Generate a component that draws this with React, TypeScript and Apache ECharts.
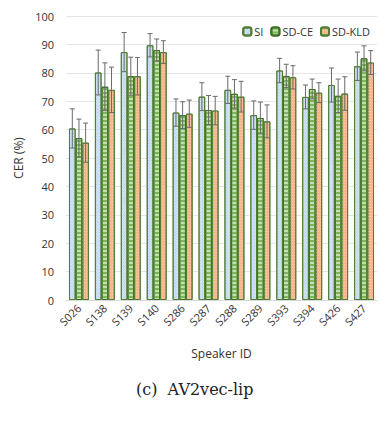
import React, { useEffect, useRef } from "react";
import * as echarts from "echarts";

const categories = ["S026", "S138", "S139", "S140", "S286", "S287", "S288", "S289", "S393", "S394", "S426", "S427"];
const seriesNames = ["SI", "SD-CE", "SD-KLD"];
const siValues = [60.4, 80.1, 87.3, 89.7, 66.0, 71.6, 74.0, 65.1, 80.8, 71.5, 75.7, 82.3];
const siErrors = [6.9, 7.9, 6.9, 4.1, 4.8, 4.9, 4.8, 5.0, 4.3, 4.2, 6.0, 5.0];
const ceValues = [57.0, 75.1, 78.8, 88.0, 65.1, 66.9, 72.6, 64.1, 78.9, 74.3, 71.9, 85.1];
const ceErrors = [6.7, 8.4, 6.7, 3.9, 4.7, 5.1, 5.0, 5.6, 4.1, 3.5, 5.9, 4.4];
const kldValues = [55.4, 74.0, 78.8, 87.3, 65.6, 66.7, 71.6, 62.9, 78.4, 73.0, 72.7, 83.6];
const kldErrors = [6.9, 8.0, 6.6, 4.0, 4.8, 5.0, 5.4, 5.8, 4.1, 3.5, 5.9, 4.2];
const yTicks = [0, 10, 20, 30, 40, 50, 60, 70, 80, 90, 100];

const CAT_GAP = 0.23;

export default function App() {
  const ref = useRef<HTMLDivElement>(null);
  useEffect(() => {
    if (!ref.current) return;
    const chart = echarts.init(ref.current, undefined, { renderer: "svg" });
    const allValues = [siValues, ceValues, kldValues];
    const allErrors = [siErrors, ceErrors, kldErrors];
    const errData: number[][] = [];
    allValues.forEach((vals, k) => {
      vals.forEach((v, i) => errData.push([i, v, allErrors[k][i], k]));
    });
    const font = "'Open Sans', 'Noto Sans', sans-serif";
    const border = "#4f7f33";
    chart.setOption({
      animation: false,
      grid: { left: 66, top: 16, width: 311, height: 284 },
      legend: {
        data: seriesNames,
        top: 21,
        right: 12,
        itemWidth: 8,
        itemHeight: 8,
        itemGap: 7,
        textStyle: { fontFamily: font, fontSize: 11, color: "#333", padding: [0, 0, 0, -2] },
      },
      graphic: [
        {
          type: "text",
          left: 136,
          top: 381,
          style: { text: "(c)  AV2vec-lip", fontFamily: "'DejaVu Serif', serif", fontSize: 16, fill: "#222" },
        },
      ],
      xAxis: {
        type: "category",
        data: categories,
        name: "Speaker ID",
        nameLocation: "middle",
        nameGap: 47,
        nameTextStyle: { fontFamily: font, fontSize: 12, color: "#333" },
        axisLine: { lineStyle: { color: "#d9d9d9" } },
        axisTick: { show: false },
        axisLabel: { rotate: 45, interval: 0, fontFamily: font, fontSize: 11, color: "#333", margin: 6 },
      },
      yAxis: {
        type: "value",
        min: 0,
        max: 100,
        interval: 10,
        name: "CER (%)",
        nameLocation: "middle",
        nameGap: 36,
        nameTextStyle: { fontFamily: font, fontSize: 12, color: "#333" },
        axisLabel: {
          fontFamily: font,
          fontSize: 11,
          color: "#333",
          margin: 12,
          formatter: (v: number) => (yTicks.includes(v) ? String(v) : ""),
        },
        splitLine: { lineStyle: { color: "#e6e6e6" } },
        axisLine: { show: false },
      },
      series: [
        {
          name: "SI",
          type: "bar",
          data: siValues,
          barGap: "0%",
          barCategoryGap: CAT_GAP * 100 + "%",
          itemStyle: {
            color: "#d6e5f4",
            borderColor: border,
            borderWidth: 1,
            decal: { symbol: "rect", symbolSize: 1, dashArrayX: [1, 1], dashArrayY: [1, 1], rotation: 0.785, color: "#a9c6e6" },
          },
        },
        {
          name: "SD-CE",
          type: "bar",
          data: ceValues,
          itemStyle: {
            color: "#c2e0ad",
            borderColor: "#3f6f25",
            borderWidth: 1,
            decal: { symbol: "rect", symbolSize: 1, dashArrayX: [1, 0], dashArrayY: [2, 2], rotation: 0, color: "#7fb55a" },
          },
        },
        {
          name: "SD-KLD",
          type: "bar",
          data: kldValues,
          itemStyle: {
            color: "#f6b58c",
            borderColor: border,
            borderWidth: 1,
            decal: { symbol: "rect", symbolSize: 1, dashArrayX: [1, 1], dashArrayY: [1, 2], rotation: 0, color: "#f9cbac" },
          },
        },
        {
          type: "custom",
          data: errData,
          encode: { x: 0, y: 1 },
          z: 10,
          silent: true,
          renderItem: (params: any, api: any) => {
            const cat = api.value(0);
            const v = api.value(1);
            const e = api.value(2);
            const k = api.value(3);
            const c = api.coord([cat, v]);
            const catW = api.size([1, 0])[0];
            const bw = (catW * (1 - CAT_GAP)) / 3;
            const x = c[0] + (k - 1) * bw;
            const top = api.coord([cat, v + e])[1];
            const bot = api.coord([cat, v - e])[1];
            const hw = 2.5;
            const st = { stroke: "#6a6a6a", lineWidth: 1 };
            return {
              type: "group",
              children: [
                { type: "line", shape: { x1: x, y1: top, x2: x, y2: bot }, style: st },
                { type: "line", shape: { x1: x - hw, y1: top, x2: x + hw, y2: top }, style: st },
                { type: "line", shape: { x1: x - hw, y1: bot, x2: x + hw, y2: bot }, style: st },
              ],
            };
          },
        },
      ],
    });
    return () => chart.dispose();
  }, []);
  return (
    <div
      ref={ref}
      style={{ position: "fixed", left: 0, top: 0, width: 387, height: 422, background: "#fff" }}
    />
  );
}
